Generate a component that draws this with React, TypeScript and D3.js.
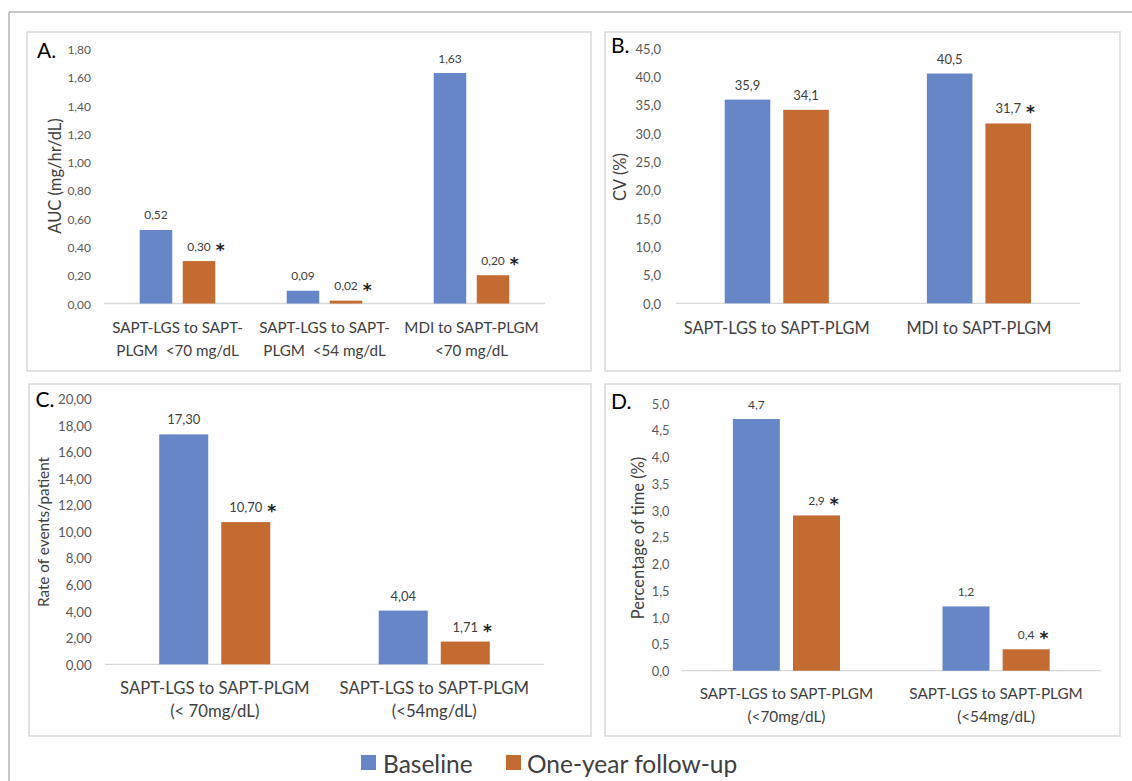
import React, { useEffect, useRef } from "react";
import * as d3 from "d3";

// ---------- DATA ----------
const seriesNames = ["Baseline", "One-year follow-up"];

const aCategories = [
  ["SAPT-LGS to SAPT-", "PLGM  <70 mg/dL"],
  ["SAPT-LGS to SAPT-", "PLGM  <54 mg/dL"],
  ["MDI to SAPT-PLGM", "<70 mg/dL"],
];
const aBaseline = [0.52, 0.09, 1.63];
const aFollowUp = [0.3, 0.02, 0.2];
const aSignificant = [true, true, true];
const aTicks = [0, 0.2, 0.4, 0.6, 0.8, 1.0, 1.2, 1.4, 1.6, 1.8];

const bCategories = [["SAPT-LGS to SAPT-PLGM"], ["MDI to SAPT-PLGM"]];
const bBaseline = [35.9, 40.5];
const bFollowUp = [34.1, 31.7];
const bSignificant = [false, true];
const bTicks = [0, 5, 10, 15, 20, 25, 30, 35, 40, 45];

const cCategories = [
  ["SAPT-LGS to SAPT-PLGM", "(< 70mg/dL)"],
  ["SAPT-LGS to SAPT-PLGM", "(<54mg/dL)"],
];
const cBaseline = [17.3, 4.04];
const cFollowUp = [10.7, 1.71];
const cSignificant = [true, true];
const cTicks = [0, 2, 4, 6, 8, 10, 12, 14, 16, 18, 20];

const dCategories = [
  ["SAPT-LGS to SAPT-PLGM", "(<70mg/dL)"],
  ["SAPT-LGS to SAPT-PLGM", "(<54mg/dL)"],
];
const dBaseline = [4.7, 1.2];
const dFollowUp = [2.9, 0.4];
const dSignificant = [true, true];
const dTicks = [0, 0.5, 1.0, 1.5, 2.0, 2.5, 3.0, 3.5, 4.0, 4.5, 5.0];

// ---------- STYLE ----------
const COLORS = ["#6686C8", "#C46B31"];
const FONT = "Lato, 'Open Sans', sans-serif";
const TEXT = "#404040";

const locale = d3.formatLocale({ decimal: ",", thousands: ".", grouping: [3], currency: ["", ""] });

const panels = [
  {
    letter: "A.", title: "AUC (mg/hr/dL)", cats: aCategories, base: aBaseline, fu: aFollowUp, sig: aSignificant, ticks: aTicks,
    dec: 2, rect: [27, 32, 564, 339], ax: [104, 545], y0: 303.5, yTop: 49, max: 1.8, p: 0.486, q: 0.244,
    catFont: 15.2, catY: [327, 350], letterPos: [37, 49], titlePos: [55, 176], titleFont: 16.5, tickRight: 91,
    tickFont: 12, labelFont: 12,
  },
  {
    letter: "B.", title: "CV (%)", cats: bCategories, base: bBaseline, fu: bFollowUp, sig: bSignificant, ticks: bTicks,
    dec: 1, rect: [605, 32, 515, 339], ax: [675.7, 1080], y0: 303.3, yTop: 48, max: 45, p: 0.485, q: 0.222,
    catFont: 16.4, catY: [327], letterPos: [611, 44], titlePos: [620, 177], titleFont: 16.5, tickRight: 661,
    tickFont: 13, labelFont: 13,
  },
  {
    letter: "C.", title: "Rate of events/patient", cats: cCategories, base: cBaseline, fu: cFollowUp, sig: cSignificant, ticks: cTicks,
    dec: 2, rect: [29, 384, 562, 352], ax: [105, 544], y0: 664.3, yTop: 398.5, max: 20, p: 0.494, q: 0.21,
    catFont: 16.7, catY: [688, 711], letterPos: [35.6, 398], titlePos: [43, 532], titleFont: 15.3, tickRight: 91.8,
    tickFont: 13.3, labelFont: 13,
  },
  {
    letter: "D.", title: "Percentage of time (%)", cats: dCategories, base: dBaseline, fu: dFollowUp, sig: dSignificant, ticks: dTicks,
    dec: 1, rect: [605, 384, 515, 352], ax: [681.6, 1100.9], y0: 670.7, yTop: 403, max: 5, p: 0.489, q: 0.219,
    catFont: 15.3, catY: [693, 716], letterPos: [611, 400], titlePos: [638, 538], titleFont: 16.5, tickRight: 669.5,
    tickFont: 12.8, labelFont: 12,
  },
];

export default function App() {
  const ref = useRef<SVGSVGElement | null>(null);

  useEffect(() => {
    const svg = d3.select(ref.current);
    svg.selectAll("*").remove();

    // outer frame
    svg.append("line").attr("x1", 9).attr("y1", 12).attr("x2", 1132).attr("y2", 12)
      .attr("stroke", "#b4b4b4").attr("stroke-width", 1.5);
    svg.append("line").attr("x1", 9).attr("y1", 12).attr("x2", 9).attr("y2", 781)
      .attr("stroke", "#b4b4b4").attr("stroke-width", 1.5);

    panels.forEach((P) => {
      const g = svg.append("g");
      const [rx, ry, rw, rh] = P.rect;
      g.append("rect").attr("x", rx).attr("y", ry).attr("width", rw).attr("height", rh)
        .attr("fill", "#fff").attr("stroke", "#d9d9d9").attr("stroke-width", 1.5);

      const catIdx = P.cats.map((_, i) => String(i));
      const x0 = d3.scaleBand<string>().domain(catIdx).range(P.ax as [number, number])
        .paddingInner(P.p).paddingOuter(P.p / 2);
      const x1 = d3.scaleBand<string>().domain(["0", "1"]).range([0, x0.bandwidth()]).paddingInner(P.q);
      const y = d3.scaleLinear().domain([0, P.max]).range([P.y0, P.yTop]);
      const fmt = locale.format(`.${P.dec}f`);

      // ticks
      g.selectAll("text.tick").data(P.ticks).enter().append("text")
        .attr("x", P.tickRight).attr("y", (d) => y(d) + 0.5)
        .attr("text-anchor", "end").attr("dominant-baseline", "central")
        .attr("font-family", FONT).attr("font-size", P.tickFont).attr("fill", "#595959")
        .text((d) => fmt(d));

      // axis line
      g.append("line").attr("x1", P.ax[0]).attr("x2", P.ax[1]).attr("y1", P.y0).attr("y2", P.y0)
        .attr("stroke", "#d9d9d9").attr("stroke-width", 1.3);

      // bars
      const series = [P.base, P.fu];
      series.forEach((vals, s) => {
        vals.forEach((v, i) => {
          const bx = (x0(String(i)) as number) + (x1(String(s)) as number);
          const bw = x1.bandwidth();
          g.append("rect").attr("x", bx).attr("y", y(v)).attr("width", bw).attr("height", P.y0 - y(v))
            .attr("fill", COLORS[s]);
          const cx = bx + bw / 2;
          const cy = y(v) - 15;
          const lab = g.append("text").attr("x", cx).attr("y", cy)
            .attr("text-anchor", "middle").attr("dominant-baseline", "central")
            .attr("font-family", FONT).attr("font-size", P.labelFont).attr("fill", TEXT)
            .text(fmt(v));
          if (s === 1 && P.sig[i]) {
            const w = (lab.node() as SVGTextElement).getComputedTextLength();
            g.append("text").attr("x", cx + w / 2 + 5).attr("y", cy + 10)
              .attr("font-family", "'DejaVu Sans', sans-serif").attr("font-size", 17).attr("font-weight", "bold")
              .attr("fill", "#222").text("*");
          }
        });
      });

      // category labels
      P.cats.forEach((lines, i) => {
        const cx = (x0(String(i)) as number) + x0.bandwidth() / 2;
        lines.forEach((ln, k) => {
          g.append("text").attr("x", cx).attr("y", P.catY[k])
            .attr("text-anchor", "middle").attr("dominant-baseline", "central")
            .attr("font-family", FONT).attr("font-size", P.catFont).attr("fill", TEXT)
            .style("white-space", "pre").text(ln);
        });
      });

      // y title
      g.append("text").attr("transform", `translate(${P.titlePos[0]},${P.titlePos[1]}) rotate(-90)`)
        .attr("text-anchor", "middle").attr("dominant-baseline", "central")
        .attr("font-family", FONT).attr("font-size", P.titleFont).attr("fill", TEXT)
        .text(P.title);

      // letter
      g.append("text").attr("x", P.letterPos[0]).attr("y", P.letterPos[1])
        .attr("dominant-baseline", "central")
        .attr("font-family", FONT).attr("font-size", 21).attr("fill", "#000")
        .text(P.letter);
    });

    // legend
    const legend = [
      { x: 361, tx: 383 },
      { x: 506, tx: 527 },
    ];
    legend.forEach((L, i) => {
      svg.append("rect").attr("x", L.x).attr("y", 755).attr("width", 15).attr("height", 15).attr("fill", COLORS[i]);
      svg.append("text").attr("x", L.tx).attr("y", 763).attr("dominant-baseline", "central")
        .attr("font-family", FONT).attr("font-size", 24.5).attr("fill", TEXT).text(seriesNames[i]);
    });
  }, []);

  return (
    <svg
      ref={ref}
      width={1132}
      height={781}
      style={{ position: "absolute", left: 0, top: 0, display: "block", background: "#fff" }}
    />
  );
}
